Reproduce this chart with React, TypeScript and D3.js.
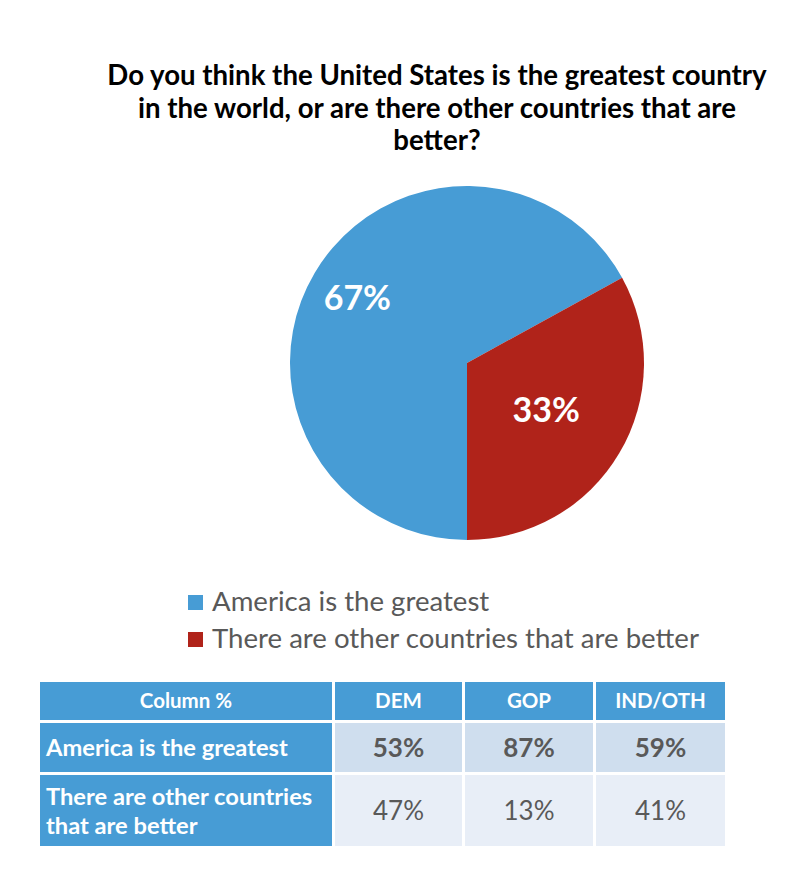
import React from "react";
import * as d3 from "d3";

// Overall answer shares
const answers = ["America is the greatest", "There are other countries that are better"];
const shares = [67, 33];
const sliceColors = ["#479CD5", "#B0231A"];

// Crosstab by party
const partyColumns = ["DEM", "GOP", "IND/OTH"];
const rowLabels = [["America is the greatest"], ["There are other countries", "that are better"]];
const greatestByParty = [53, 87, 59];
const betterByParty = [47, 13, 41];

const titleLines = [
  "Do you think the United States is the greatest country",
  "in the world, or are there other countries that are",
  "better?",
];

const W = 804;
const H = 888;
const FONT = "Lato, 'Open Sans', sans-serif";

export default function App() {
  const cx = 467;
  const cy = 363;
  const r = 177;

  const pie = d3
    .pie<number>()
    .value((d) => d)
    .sort(null)
    .startAngle(Math.PI)
    .endAngle(Math.PI * 3);
  const arcs = pie(shares);
  const arcGen = d3.arc<d3.PieArcDatum<number>>().innerRadius(0).outerRadius(r);
  const labelFrac = [0.72, 0.52];

  // table geometry
  const colEdges = [40, 332, 462, 593, 725];
  const rowEdges = [682, 720, 772, 846];
  const gap = 3;
  const rows = [greatestByParty, betterByParty];
  const cellFill = ["#CFDEEE", "#E8EEF7"];

  return (
    <svg width={W} height={H} style={{ position: "absolute", left: 0, top: 0, background: "#fff" }}>
      {titleLines.map((t, i) => (
        <text
          key={i}
          x={437}
          y={85 + i * 32.5}
          textAnchor="middle"
          fontFamily={FONT}
          fontWeight="bold"
          fontSize={27.6}
          fill="#000"
        >
          {t}
        </text>
      ))}

      <g transform={`translate(${cx},${cy})`}>
        {arcs.map((a, i) => (
          <path key={i} d={arcGen(a) || ""} fill={sliceColors[i]} />
        ))}
        {arcs.map((a, i) => {
          const mid = (a.startAngle + a.endAngle) / 2;
          const d = r * labelFrac[i];
          return (
            <text
              key={i}
              x={Math.sin(mid) * d}
              y={-Math.cos(mid) * d}
              dy="0.36em"
              textAnchor="middle"
              fontFamily={FONT}
              fontWeight="bold"
              fontSize={34}
              fill="#fff"
            >
              {`${a.data}%`}
            </text>
          );
        })}
      </g>

      {answers.map((label, i) => (
        <g key={i} transform={`translate(188,${595 + i * 37})`}>
          <rect width={15} height={15} fill={sliceColors[i]} />
          <text x={24} y={16} fontFamily={FONT} fontSize={27.6} fill="#595959">
            {label}
          </text>
        </g>
      ))}

      {/* header row */}
      {["Column %", ...partyColumns].map((h, j) => {
        const x0 = colEdges[j] + (j > 0 ? gap : 0);
        const x1 = colEdges[j + 1];
        return (
          <g key={j}>
            <rect x={x0} y={rowEdges[0]} width={x1 - x0} height={rowEdges[1] - rowEdges[0]} fill="#479CD5" />
            <text
              x={(x0 + x1) / 2}
              y={(rowEdges[0] + rowEdges[1]) / 2}
              dy="0.36em"
              textAnchor="middle"
              fontFamily={FONT}
              fontWeight="bold"
              fontSize={20.5}
              fill="#fff"
            >
              {h}
            </text>
          </g>
        );
      })}

      {rows.map((vals, ri) => {
        const y0 = rowEdges[ri + 1] + gap;
        const y1 = rowEdges[ri + 2];
        const lines = rowLabels[ri];
        const midY = (y0 + y1) / 2;
        return (
          <g key={ri}>
            <rect x={colEdges[0]} y={y0} width={colEdges[1] - colEdges[0]} height={y1 - y0} fill="#479CD5" />
            {lines.map((ln, li) => (
              <text
                key={li}
                x={46}
                y={midY + (li - (lines.length - 1) / 2) * 29}
                dy="0.36em"
                fontFamily={FONT}
                fontWeight="bold"
                fontSize={23.7}
                fill="#fff"
              >
                {ln}
              </text>
            ))}
            {vals.map((v, j) => {
              const x0 = colEdges[j + 1] + gap;
              const x1 = colEdges[j + 2];
              return (
                <g key={j}>
                  <rect x={x0} y={y0} width={x1 - x0} height={y1 - y0} fill={cellFill[ri]} />
                  <text
                    x={(x0 + x1) / 2}
                    y={midY}
                    dy="0.36em"
                    textAnchor="middle"
                    fontFamily={FONT}
                    fontWeight={ri === 0 ? "bold" : "normal"}
                    fontSize={26}
                    fill="#595959"
                  >
                    {`${v}%`}
                  </text>
                </g>
              );
            })}
          </g>
        );
      })}
    </svg>
  );
}
